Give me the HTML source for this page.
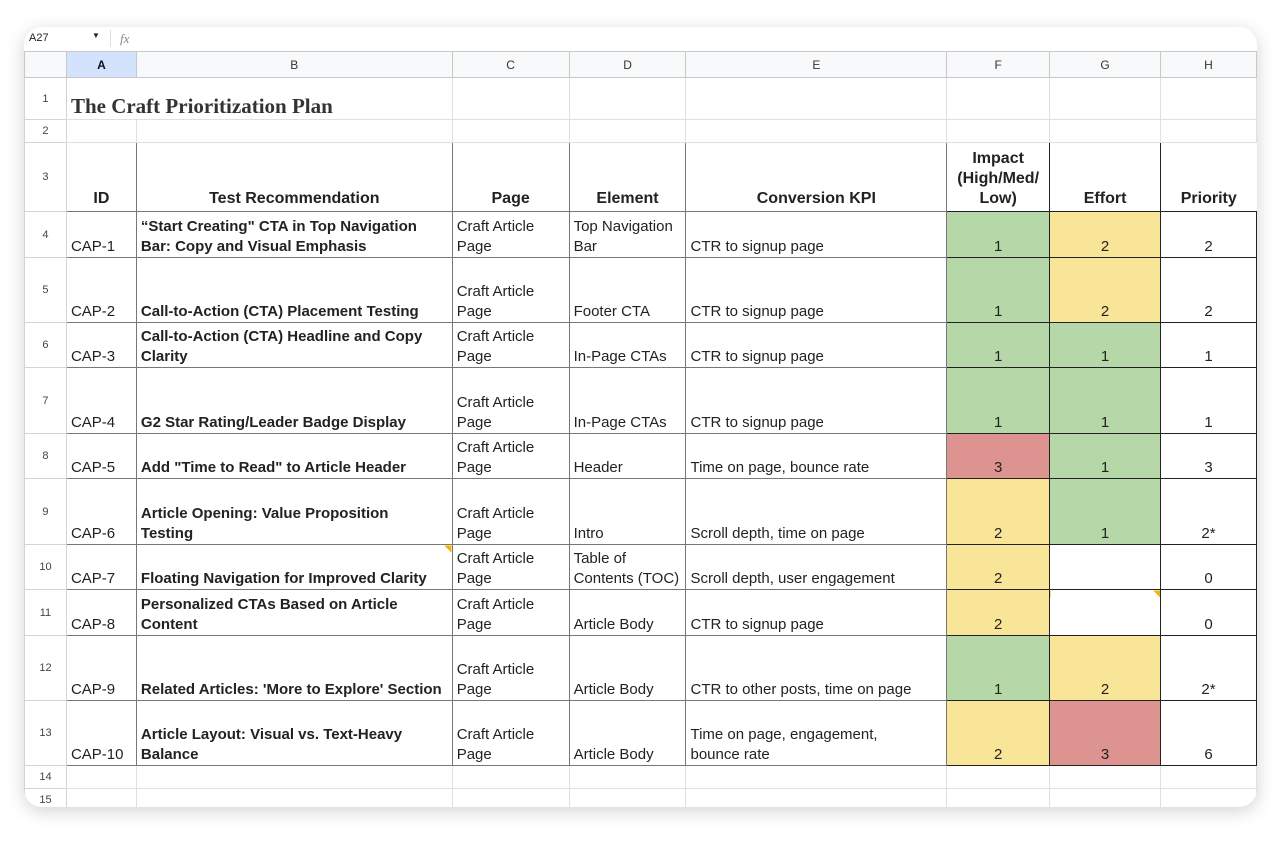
<!DOCTYPE html>
<html><head><meta charset="utf-8"><style>
body{margin:0;background:#fff;width:1280px;height:843px;overflow:hidden;font-family:"Liberation Sans",Arial,sans-serif;}
.card{position:absolute;left:24px;top:27px;width:1233px;height:780px;border-radius:18px;background:#fff;box-shadow:0 4px 18px rgba(0,0,0,0.18);overflow:hidden;}
.fb{position:absolute;left:0;top:0;width:1233px;height:24px;border-bottom:1px solid #d0d0d0;font-size:11px;color:#222;}
table{position:absolute;left:0;top:24px;border-collapse:collapse;table-layout:fixed;}
td{border:1px solid #e0e0e0;padding:0 4px 0;font-size:15px;line-height:20px;color:#222;vertical-align:bottom;overflow:hidden;white-space:nowrap;}
td.rh{background:#fff;color:#444;font-size:11px;text-align:center;vertical-align:middle;padding:0;border-color:#d4d4d4;}
tr.ch td{background:#f8f9fa;color:#333;font-size:12px;text-align:center;vertical-align:middle;padding:0;border-color:#c8c8c8;}
tr.ch td.sel{background:#d3e3fd;font-weight:bold;color:#111;}
.d td.c{border:1px solid #777;white-space:normal;}
.d td.k{border:1px solid #222;text-align:center;}
.b{font-weight:bold;}
.h td.c{font-weight:bold;text-align:center;font-size:16px;padding-bottom:2px;}
.g{background:#b6d7a8;}.y{background:#f9e597;}.r{background:#dd9390;}
</style></head><body>
<div class="card">
<div class="fb"><span style="position:absolute;left:5px;top:5px">A27</span><span style="position:absolute;left:68px;top:4px;font-size:8px">▼</span><span style="position:absolute;left:86px;top:3px;width:1px;height:17px;background:#ddd"></span><span style="position:absolute;left:96px;top:4px;font-style:italic;font-family:'Liberation Serif',serif;color:#888;font-size:13px">fx</span></div>
<table>
<colgroup><col style="width:42px"><col style="width:70px"><col style="width:316px"><col style="width:117px"><col style="width:117px"><col style="width:261px"><col style="width:103px"><col style="width:111px"><col style="width:96px"></colgroup>
<tr class="ch" style="height:26px"><td></td><td class="sel">A</td><td>B</td><td>C</td><td>D</td><td>E</td><td>F</td><td>G</td><td>H</td></tr>
<tr style="height:42px"><td class="rh">1</td><td colspan="2" style="font-family:'Liberation Serif',serif;font-weight:bold;font-size:21px;padding-bottom:3px;color:#333">The Craft Prioritization Plan</td><td></td><td></td><td></td><td></td><td></td><td></td></tr>
<tr style="height:23px"><td class="rh">2</td><td></td><td></td><td></td><td></td><td></td><td></td><td></td><td></td></tr>
<tr class="d h" style="height:69px"><td class="rh">3</td><td class="c">ID</td><td class="c">Test Recommendation</td><td class="c">Page</td><td class="c">Element</td><td class="c">Conversion KPI</td><td class="k b" style="font-size:16px;white-space:normal;padding-bottom:2px">Impact (High/Med/ Low)</td><td class="k b" style="font-size:16px;padding-bottom:2px">Effort</td><td class="k b" style="font-size:16px;border-right:none;padding-bottom:2px">Priority</td></tr>
<tr class="d" style="height:46px"><td class="rh">4</td><td class="c">CAP-1</td><td class="c b">“Start Creating" CTA in Top Navigation Bar: Copy and Visual Emphasis</td><td class="c">Craft Article Page</td><td class="c">Top Navigation Bar</td><td class="c">CTR to signup page</td><td class="k g">1</td><td class="k y">2</td><td class="k">2</td></tr>
<tr class="d" style="height:65px"><td class="rh">5</td><td class="c">CAP-2</td><td class="c b">Call-to-Action (CTA) Placement Testing</td><td class="c">Craft Article Page</td><td class="c">Footer CTA</td><td class="c">CTR to signup page</td><td class="k g">1</td><td class="k y">2</td><td class="k">2</td></tr>
<tr class="d" style="height:45px"><td class="rh">6</td><td class="c">CAP-3</td><td class="c b">Call-to-Action (CTA) Headline and Copy Clarity</td><td class="c">Craft Article Page</td><td class="c">In-Page CTAs</td><td class="c">CTR to signup page</td><td class="k g">1</td><td class="k g">1</td><td class="k">1</td></tr>
<tr class="d" style="height:66px"><td class="rh">7</td><td class="c">CAP-4</td><td class="c b">G2 Star Rating/Leader Badge Display</td><td class="c">Craft Article Page</td><td class="c">In-Page CTAs</td><td class="c">CTR to signup page</td><td class="k g">1</td><td class="k g">1</td><td class="k">1</td></tr>
<tr class="d" style="height:45px"><td class="rh">8</td><td class="c">CAP-5</td><td class="c b">Add "Time to Read" to Article Header</td><td class="c">Craft Article Page</td><td class="c">Header</td><td class="c">Time on page, bounce rate</td><td class="k r">3</td><td class="k g">1</td><td class="k">3</td></tr>
<tr class="d" style="height:66px"><td class="rh">9</td><td class="c">CAP-6</td><td class="c b">Article Opening: Value Proposition<br>Testing</td><td class="c">Craft Article Page</td><td class="c">Intro</td><td class="c">Scroll depth, time on page</td><td class="k y">2</td><td class="k g">1</td><td class="k">2*</td></tr>
<tr class="d" style="height:45px"><td class="rh">10</td><td class="c">CAP-7</td><td class="c b" style="background:linear-gradient(225deg,#f4b400 5px,transparent 5px)">Floating Navigation for Improved Clarity</td><td class="c">Craft Article Page</td><td class="c">Table of Contents (TOC)</td><td class="c">Scroll depth, user engagement</td><td class="k y">2</td><td class="k"></td><td class="k">0</td></tr>
<tr class="d" style="height:46px"><td class="rh">11</td><td class="c">CAP-8</td><td class="c b">Personalized CTAs Based on Article Content</td><td class="c">Craft Article Page</td><td class="c">Article Body</td><td class="c">CTR to signup page</td><td class="k y">2</td><td class="k" style="background:linear-gradient(225deg,#f4b400 5px,transparent 5px)"></td><td class="k">0</td></tr>
<tr class="d" style="height:65px"><td class="rh">12</td><td class="c">CAP-9</td><td class="c b">Related Articles: 'More to Explore' Section</td><td class="c">Craft Article Page</td><td class="c">Article Body</td><td class="c">CTR to other posts, time on page</td><td class="k g">1</td><td class="k y">2</td><td class="k">2*</td></tr>
<tr class="d" style="height:65px"><td class="rh">13</td><td class="c">CAP-10</td><td class="c b">Article Layout: Visual vs. Text-Heavy Balance</td><td class="c">Craft Article Page</td><td class="c">Article Body</td><td class="c">Time on page, engagement,<br>bounce rate</td><td class="k y">2</td><td class="k r">3</td><td class="k">6</td></tr>
<tr style="height:23px"><td class="rh">14</td><td></td><td></td><td></td><td></td><td></td><td></td><td></td><td></td></tr>
<tr style="height:23px"><td class="rh">15</td><td></td><td></td><td></td><td></td><td></td><td></td><td></td><td></td></tr>
</table>
</div>
</body></html>
